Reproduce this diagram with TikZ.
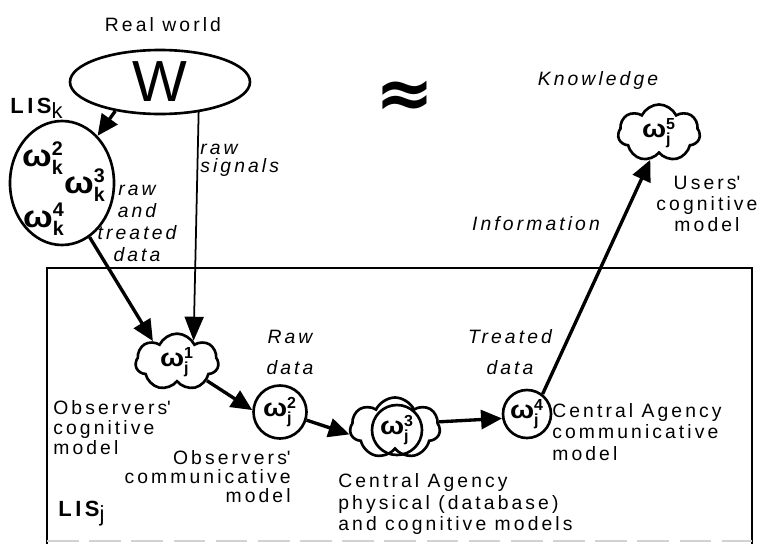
\documentclass[tikz,border=0pt]{standalone}
\usepackage{amsmath}
\usepackage{fontspec}
\setmainfont{Liberation Sans}[LetterSpace=16]
\newfontfamily\symfont{DejaVu Sans}
\usetikzlibrary{shapes.geometric, shapes.symbols, arrows.meta}

\newcommand{\wsub}[2]{$\text{\bfseries\scalebox{1.25}[1.1]{ω}}^{\text{\bfseries #2}}_{\text{\bfseries #1}}$}

\begin{document}
\begin{tikzpicture}[
    x=0.2mm, y=-0.2mm,
    every node/.style={inner sep=0pt},
    plaintext/.style={font=\fontsize{11}{#1}\selectfont},
    plaintext/.default=11.4pt,
    flowtext/.style={font=\fontsize{11}{#1}\selectfont\itshape},
    flowtext/.default=12.5pt,
    model/.style={circle, draw, line width=1.5pt, minimum size=#1,
                  font=\fontsize{13}{13}\selectfont},
    model/.default=10mm,
    cogmodel/.style={cloud, cloud puffs=7, cloud puff arc=130, aspect=1.7, draw,
                     line width=1.5pt, minimum width=#1, minimum height=9.8mm,
                     font=\fontsize{13}{13}\selectfont},
    worldbox/.style={ellipse, draw, line width=1.5pt},
    lisname/.style={font=\fontsize{12.5}{13}\selectfont\bfseries, anchor=base west},
    arrow/.style={-{Triangle[length=4.2mm, width=3.8mm]}, line width=1.9pt},
    signal/.style={-{Triangle[length=4.8mm, width=3.8mm]}, line width=1pt}
]
\useasboundingbox (0,0) rectangle (757,543);

% Real world
\node[plaintext, anchor=base] at (163,31) (realworld) {Real world};
\node[worldbox, minimum width=36mm, minimum height=12.8mm,
      font=\fontsize{33}{33}\selectfont] at (160,82) (world) {W};

\node[font=\symfont\bfseries\fontsize{40}{40}\selectfont] at (405,99) (approx) {≈};

% LIS k
\node[lisname] at (10,113) (liskname) {LIS\raisebox{-1.1mm}{\mdseries k}};
\node[worldbox, minimum width=20.8mm, minimum height=24.8mm] at (62,183) (lisk) {};
\node[font=\fontsize{16}{16}\selectfont] at (43,158) (wk2) {\wsub{k}{2}};
\node[font=\fontsize{16}{16}\selectfont] at (85,185) (wk3) {\wsub{k}{3}};
\node[font=\fontsize{16}{16}\selectfont] at (44,219) (wk4) {\wsub{k}{4}};

% LIS j boundary
\draw[line width=0.9pt] (47,545) -- (47,268) -- (752,268) -- (752,545);
\draw[gray!35, dashed, dash pattern=on 18pt off 6pt, line width=0.8pt] (47,541) -- (752,541);
\node[lisname] at (58,516) (lisjname) {LIS\raisebox{-1.1mm}{\mdseries j}};

% Models
\node[cogmodel=16.6mm] at (177,362) (c1) {\wsub{j}{1}};
\node[model=10.6mm] at (280,412) (c2) {\wsub{j}{2}};
\node[cogmodel=18mm, minimum height=12.2mm, aspect=1.5] at (395,428) (c3cloud) {};
\node[model=10mm] at (397,430) (c3) {\wsub{j}{3}};
\node[model=9.6mm] at (527,414) (c4) {\wsub{j}{4}};
\node[cogmodel=16.4mm, minimum height=10mm] at (659,133) (c5) {\wsub{j}{5}};

% Labels
\node[flowtext=10.2pt, align=left, anchor=west] at (200,160) (rawsig) {raw\\signals};
\node[flowtext, align=center] at (137,223) (rawtreated) {raw\\and\\treated\\data};
\node[flowtext=17.6pt, align=center] at (290,352) (rawdata) {Raw\\data};
\node[flowtext=17.6pt, align=center] at (510,352) (treateddata) {Treated\\data};
\node[flowtext, anchor=base] at (536,230) (information) {Information};
\node[flowtext, anchor=base] at (598,85) (knowledge) {Knowledge};

\node[plaintext=12pt, align=center] at (707,204) (users)
    {Users\textquotesingle\\cognitive\\model};
\node[plaintext, align=left, anchor=west] at (53,428) (obscog)
    {Observers\textquotesingle\\cognitive\\model};
\node[plaintext=10.8pt, align=right, anchor=east] at (291,477) (obscom)
    {Observers\textquotesingle\\communicative\\model};
\node[plaintext=12.5pt, align=left, anchor=west] at (338,504) (cadb)
    {Central Agency\\physical (database)\\and cognitive models};
\node[plaintext=12pt, align=left, anchor=west] at (552,432) (cacom)
    {Central Agency\\communicative\\model};

% Arrows
\draw[arrow] (world.213) -- (lisk.53);
\draw[signal] (world.-38) -- (c1.52);
\draw[arrow] (lisk.-63) -- (c1.139);
\draw[arrow] (c1.-32) -- (c2.176);
\draw[arrow] (c2.-17) -- (c3cloud.188);
\draw[arrow] (c3cloud.8) -- (c4.190);
\draw[arrow] (c4.52) -- (c5.-108);

\end{tikzpicture}
\end{document}
